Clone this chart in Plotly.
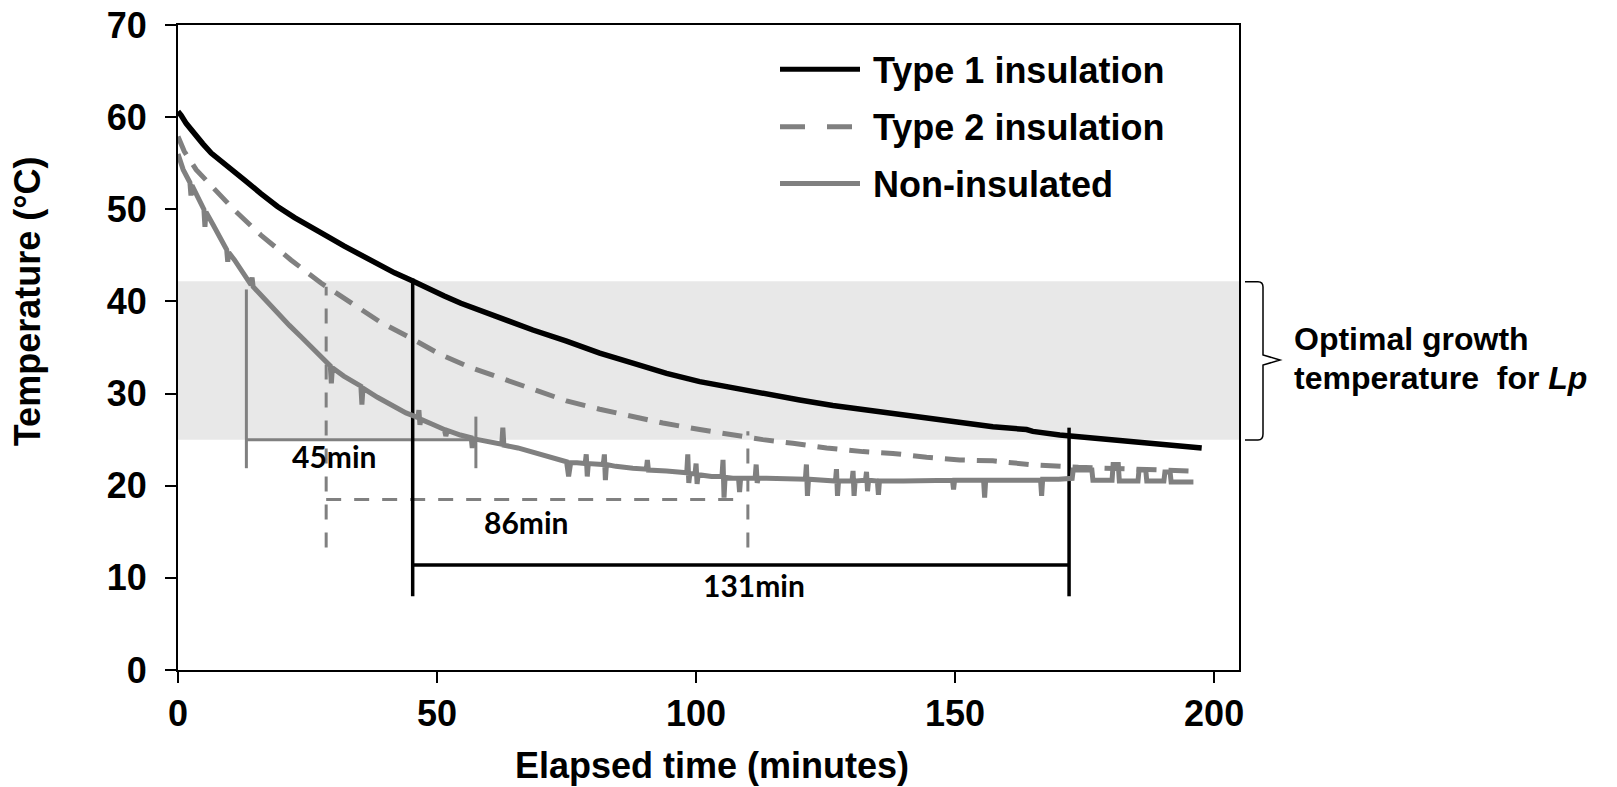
import plotly.graph_objects as go

# ---------------- data ----------------
type1_x = [0, 0.6, 1.6, 3.2, 4.8, 6.4, 9.5, 12.8, 16.0, 19.2, 22.5, 25.7, 29.0, 32.1, 35.3, 38.6, 41.8,
           45.0, 48.2, 51.4, 54.6, 57.9, 62.1, 65.6, 68.5, 75.0, 81.4, 87.8, 94.3, 100.7,
           107.1, 113.6, 120.0, 126.4, 131.6, 138.0, 144.5, 150.9, 157.3, 163.8, 165.0,
           170.2, 176.6, 183.1, 189.5, 197.6]
type1_y = [60.6, 60.2, 59.3, 58.1, 57.1, 56.1, 54.6, 53.2, 51.7, 50.3, 49.1, 48.0, 47.0, 46.0, 45.0, 44.0, 43.1,
           42.3, 41.4, 40.6, 39.8, 39.1, 38.2, 37.5, 36.9, 35.7, 34.4, 33.3, 32.2, 31.3,
           30.6, 29.9, 29.3, 28.7, 28.3, 27.8, 27.3, 26.9, 26.4, 26.1, 25.9,
           25.5, 25.2, 24.8, 24.5, 24.1]

type2_x = [0, 1.2, 3.5, 6.4, 10.9, 16.0, 21.8, 27.6, 33.4, 39.2, 45.0, 50.8, 56.6, 62.1, 68.5, 75.0,
           81.4, 87.8, 93.6, 100.7, 107.1, 112.9, 118.7, 125.2, 132.2, 138.0, 144.5, 150.9,
           157.3, 164.4, 173.8, 179.4, 185.2, 190.3, 195.5]
type2_y = [57.9, 56.3, 54.3, 52.5, 49.9, 47.2, 44.5, 42.0, 39.8, 37.7, 36.0, 34.2, 32.8, 31.7, 30.4, 29.2,
           28.3, 27.5, 26.8, 26.1, 25.5, 25.0, 24.6, 24.1, 23.7, 23.5, 23.1, 22.8,
           22.7, 22.3, 22.0, 21.9, 21.9, 21.7, 21.6]

non_x = [0, 1.0, 2.3, 2.5, 2.7, 4.0, 5.0, 5.2, 5.4, 6.8, 8.3, 9.4, 9.6, 9.8, 10.9, 12.5,
         14.1, 14.3, 14.5, 16.5, 19.2, 21.5, 23.7, 26.3, 28.9, 29.4, 29.6, 29.8, 32.0,
         35.3, 35.5, 35.7, 38.5, 41.8, 44.0, 46.3, 46.5, 46.7, 46.9, 49.0, 51.4, 51.7, 52.0,
         54.5, 56.6, 56.8, 57.0, 57.9, 60.0, 62.5, 62.7, 62.9, 65.6, 68.5, 71.5,
         75.0, 75.4, 75.8, 77.0, 78.6, 78.8, 79.0, 79.2, 82.1, 82.3, 82.5, 82.7, 84.5,
         87.8, 90.4, 90.6, 90.8, 94.3, 96.5, 98.2, 98.4, 98.6, 98.8, 99.8, 100.0, 100.2,
         100.4, 103.0, 105.0, 105.2, 105.4, 105.6, 107.1, 108.2, 108.4, 108.6, 111.4,
         111.6, 111.8, 112.0, 113.6, 117.0, 121.1, 121.3, 121.5, 121.7, 124.0, 126.9,
         127.1, 127.3, 127.5, 130.1, 130.3, 130.5, 130.7, 132.7, 132.9, 133.1, 133.3,
         135.0, 135.2, 135.4, 140.0, 145.0, 149.5, 149.7, 149.9, 153.0, 155.5, 155.7,
         155.9, 160.0, 163.0, 166.5, 166.7, 166.9, 170.0, 172.6, 172.8, 176.4, 176.6,
         178.0, 180.3, 180.5, 181.5, 181.7, 182.4, 185.3, 185.5, 186.8, 187.0, 190.3,
         190.5, 191.5, 191.7, 193.7, 196.0]
non_y = [56.0, 54.3, 52.9, 51.5, 52.6, 51.0, 50.0, 48.1, 49.7, 48.3, 46.7, 45.6, 44.3, 45.3, 44.5, 43.1,
         41.8, 42.6, 41.6, 40.4, 38.7, 37.4, 36.2, 34.7, 33.3, 33.0, 31.1, 32.8, 31.9,
         30.8, 28.8, 30.6, 29.6, 28.6, 27.9, 27.4, 28.2, 26.6, 27.2, 26.7, 26.1, 25.4, 26.0,
         25.5, 25.2, 24.1, 25.1, 25.0, 24.8, 24.5, 26.3, 24.4, 24.1, 23.6, 23.1,
         22.6, 21.0, 22.5, 22.5, 22.4, 23.4, 21.0, 22.4, 22.3, 23.4, 20.6, 22.3, 22.1,
         21.9, 21.8, 22.8, 21.7, 21.6, 21.5, 21.4, 23.4, 20.3, 21.3, 21.3, 22.4, 20.2,
         21.2, 21.0, 21.0, 22.8, 18.7, 20.9, 20.8, 20.8, 19.3, 20.8, 20.8,
         22.3, 20.3, 20.8, 20.8, 20.7, 20.7, 22.3, 18.9, 20.7, 20.6, 20.5,
         21.8, 18.9, 20.5, 20.5, 21.6, 18.9, 20.5, 20.6, 21.5, 19.4, 20.6,
         20.5, 19.0, 20.5, 20.5, 20.5, 20.6, 19.6, 20.6, 20.6, 20.6, 18.7,
         20.6, 20.6, 20.6, 20.6, 18.9, 20.7, 20.7, 20.8, 21.7, 21.7, 20.6,
         20.6, 20.6, 22.3, 22.3, 20.5, 20.5, 20.5, 21.7, 21.7, 20.5, 20.5,
         21.5, 21.5, 20.4, 20.4, 20.4]

# optimal growth band for Lp (°C)
band_low, band_high = 25.0, 42.2

# dimension markers
dim_names = ["Non-insulated", "Type 2 insulation", "Type 1 insulation"]
dim_start = [13.2, 28.6, 45.3]
dim_end = [57.5, 110.0, 172.0]
dim_bar_end = [57.5, 107.2, 172.0]
dim_bar_y = [25.0, 18.5, 11.4]
dim_left_top = [41.3, 41.6, 42.5]
dim_left_bottom = [21.9, 13.3, 8.0]
dim_right_top = [27.5, 25.9, 26.3]
dim_right_bottom = [21.9, 13.3, 8.0]
dim_labels = ["45min", "86min", "131min"]
dim_label_x = [30.1, 67.1, 111.1]
dim_label_y = [23.2, 16.1, 9.2]

x_ticks = [0, 50, 100, 150, 200]
y_ticks = [0, 10, 20, 30, 40, 50, 60, 70]

# ---------------- layout geometry ----------------
W, H = 1617, 787
ML, MR, MT, MB = 178, 378, 25, 117
PW = W - ML - MR
PH = H - MT - MB


def px_x(X):
    return (X - ML) / PW


def px_y(Y):
    return (H - MB - Y) / PH


FONT = "Liberation Sans, Arial, sans-serif"
LBLFONT = "Lato, Carlito, Calibri, sans-serif"
BLACK = "#000000"
GRAY = "#808080"

fig = go.Figure()

dim_styles = [dict(color=GRAY, width=3, dash="solid"),
              dict(color=GRAY, width=3, dash="15px,13px"),
              dict(color=BLACK, width=3.5, dash="solid")]
for i in range(len(dim_names)):
    st = dim_styles[i]
    segs = [([dim_start[i], dim_start[i]], [dim_left_bottom[i], dim_left_top[i]]),
            ([dim_start[i], dim_bar_end[i]], [dim_bar_y[i], dim_bar_y[i]]),
            ([dim_end[i], dim_end[i]], [dim_right_bottom[i], dim_right_top[i]])]
    for sx, sy in segs:
        fig.add_trace(go.Scatter(x=sx, y=sy, mode="lines", line=st,
                                 showlegend=False, hoverinfo="skip"))

fig.add_trace(go.Scatter(x=non_x, y=non_y, mode="lines", name="Non-insulated",
                         line=dict(color=GRAY, width=5), showlegend=False))
fig.add_trace(go.Scatter(x=type2_x, y=type2_y, mode="lines", name="Type 2 insulation",
                         line=dict(color=GRAY, width=5, dash="20px,12px"), showlegend=False))
fig.add_trace(go.Scatter(x=type1_x, y=type1_y, mode="lines", name="Type 1 insulation",
                         line=dict(color=BLACK, width=5.5), showlegend=False))

shapes = []
shapes.append(dict(type="rect", xref="paper", yref="y", x0=0, x1=1, y0=band_low, y1=band_high,
                   fillcolor="#E8E8E8", line=dict(width=0), layer="below"))

leg_rows = [("Type 1 insulation", dict(color=BLACK, width=5), 780, 860, 69.3),
            ("Type 2 insulation", dict(color=GRAY, width=5, dash="25px,22px"), 780, 852, 126.7),
            ("Non-insulated", dict(color=GRAY, width=5), 780, 860, 183.5)]
annotations = []
for name, ln, x0, x1, yc in leg_rows:
    shapes.append(dict(type="line", xref="paper", yref="paper", x0=px_x(x0), x1=px_x(x1),
                       y0=px_y(yc), y1=px_y(yc), line=ln))
    annotations.append(dict(text=name, xref="paper", yref="paper", x=px_x(871), y=px_y(yc + 1),
                            xanchor="left", yanchor="middle", showarrow=False,
                            font=dict(family=FONT, size=36, color=BLACK, weight="bold")))

brace = (f"M {px_x(1245)},{px_y(281.7)} L {px_x(1258)},{px_y(281.7)} "
         f"Q {px_x(1263)},{px_y(281.7)} {px_x(1263)},{px_y(287)} "
         f"L {px_x(1263)},{px_y(355)} L {px_x(1280)},{px_y(360)} L {px_x(1263)},{px_y(365)} "
         f"L {px_x(1263)},{px_y(434)} Q {px_x(1263)},{px_y(440)} {px_x(1258)},{px_y(440)} "
         f"L {px_x(1245)},{px_y(440)}")
shapes.append(dict(type="path", xref="paper", yref="paper", path=brace,
                   line=dict(color=BLACK, width=1.5)))

annotations.append(dict(text="Optimal growth", xref="paper", yref="paper", x=px_x(1292), y=px_y(339),
                        xanchor="left", yanchor="middle", showarrow=False,
                        font=dict(family=FONT, size=32, color=BLACK, weight="bold")))
annotations.append(dict(text="temperature  for <i>Lp</i>", xref="paper", yref="paper",
                        x=px_x(1292), y=px_y(378), xanchor="left", yanchor="middle", showarrow=False,
                        font=dict(family=FONT, size=32, color=BLACK, weight="bold")))

for i in range(len(dim_labels)):
    annotations.append(dict(text=dim_labels[i], x=dim_label_x[i], y=dim_label_y[i], xref="x", yref="y",
                            showarrow=False, xanchor="center", yanchor="middle",
                            font=dict(family=LBLFONT, size=30, color=BLACK, weight="bold")))

annotations.append(dict(text="Temperature (°C)", xref="paper", yref="paper", x=px_x(27.5), y=px_y(301.7),
                        textangle=-90, xanchor="center", yanchor="middle", showarrow=False,
                        font=dict(family=FONT, size=36, color=BLACK, weight="bold")))
annotations.append(dict(text="Elapsed time (minutes)", xref="paper", yref="paper", x=px_x(712), y=px_y(765),
                        xanchor="center", yanchor="middle", showarrow=False,
                        font=dict(family=FONT, size=36, color=BLACK, weight="bold")))

fig.update_layout(
    width=W, height=H, autosize=False,
    margin=dict(l=ML, r=MR, t=MT, b=MB, pad=0, autoexpand=False),
    paper_bgcolor="white", plot_bgcolor="white",
    showlegend=False, shapes=shapes, annotations=annotations,
    xaxis=dict(range=[0, 204.8], tickvals=x_ticks, ticks="outside", ticklen=11, tickwidth=2,
               tickcolor=BLACK, showline=True, linecolor=BLACK, linewidth=2, mirror=True,
               showgrid=False, zeroline=False, ticklabelstandoff=0, automargin=False,
               tickfont=dict(family=FONT, size=36, color=BLACK, weight="bold")),
    yaxis=dict(range=[0, 70], tickvals=y_ticks, ticks="outside", ticklen=11, tickwidth=2,
               tickcolor=BLACK, showline=True, linecolor=BLACK, linewidth=2, mirror=True,
               showgrid=False, zeroline=False, ticklabelstandoff=11, automargin=False,
               tickfont=dict(family=FONT, size=36, color=BLACK, weight="bold")),
)

fig.write_html("out.html", config={"displayModeBar": False},
               post_script="document.body.style.margin='0';document.body.style.overflow='hidden';")
